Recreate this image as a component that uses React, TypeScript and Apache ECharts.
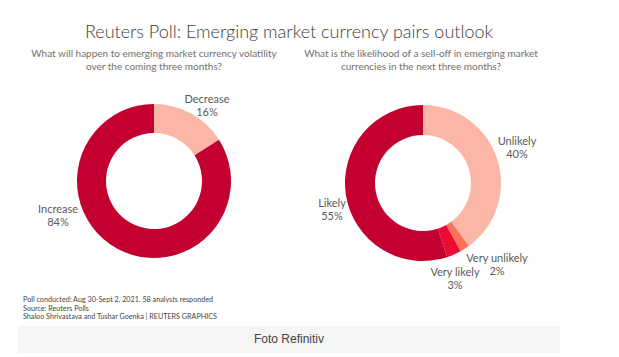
import React, { useEffect, useRef } from "react";
import * as echarts from "echarts";

const volatilityNames = ["Decrease", "Increase"];
const volatilityValues = [16, 84];
const selloffNames = ["Unlikely", "Very unlikely", "Very likely", "Likely"];
const selloffValues = [40, 2, 3, 55];

const titleText = "Reuters Poll: Emerging market currency pairs outlook";
const leftSubtitle = "What will happen to emerging market currency volatility\nover the coming three months?";
const rightSubtitle = "What is the likelihood of a sell-off in emerging market\ncurrencies in the next three months?";
const footerLines = [
  "Poll conducted: Aug 30-Sept 2, 2021. 58 analysts responded",
  "Source: Reuters Polls",
  "Shaloo Shrivastava and Tushar Goenka | REUTERS GRAPHICS",
];
const captionText = "Foto Refinitiv";

const DARK = "#c3002f";
const PINK = "#fbb6a8";
const CORAL = "#ff6f5c";
const BRIGHT = "#ec0a32";

const volatilityColors = [PINK, DARK];
const selloffColors = [PINK, CORAL, BRIGHT, DARK];

// label anchor positions (centre of text block)
const leftLabelPos: Record<string, [number, number]> = {
  Decrease: [207, 105],
  Increase: [58, 215],
};
const rightLabelPos: Record<string, [number, number]> = {
  Unlikely: [517, 147],
  "Very unlikely": [497, 264],
  "Very likely": [455, 278],
  Likely: [332, 209],
};

const FONT = "Lato";

export default function App() {
  const ref = useRef<HTMLDivElement>(null);
  useEffect(() => {
    if (!ref.current) return;
    const chart = echarts.init(ref.current, null, { renderer: "svg" });
    const labelStyle = {
      show: true,
      position: "outside" as const,
      formatter: "{b}\n{c}%",
      color: "#5a5a5a",
      fontSize: 11,
      lineHeight: 13,
      fontFamily: FONT,
      align: "center" as const,
    };
    chart.setOption({
      animation: false,
      backgroundColor: "#ffffff",
      textStyle: { fontFamily: FONT },
      series: [
        {
          type: "pie",
          center: [154, 181],
          radius: [48, 77],
          startAngle: 90,
          clockwise: true,
          silent: true,
          label: labelStyle,
          labelLine: { show: false },
          labelLayout: (p: any) => {
            const pos = leftLabelPos[volatilityNames[p.dataIndex]];
            return { x: pos[0], y: pos[1], align: "center", verticalAlign: "middle" };
          },
          data: volatilityNames.map((n, i) => ({
            name: n,
            value: volatilityValues[i],
            itemStyle: { color: volatilityColors[i] },
          })),
        },
        {
          type: "pie",
          center: [423, 183],
          radius: [48, 78],
          startAngle: 90,
          clockwise: true,
          silent: true,
          label: labelStyle,
          labelLine: { show: false },
          labelLayout: (p: any) => {
            const pos = rightLabelPos[selloffNames[p.dataIndex]];
            return { x: pos[0], y: pos[1], align: "center", verticalAlign: "middle" };
          },
          data: selloffNames.map((n, i) => ({
            name: n,
            value: selloffValues[i],
            itemStyle: { color: selloffColors[i] },
          })),
        },
      ],
      graphic: [
        {
          type: "text",
          x: 289,
          y: 31,
          style: {
            text: titleText,
            fontSize: 18,
            fontWeight: 300,
            fontFamily: FONT,
            fill: "#3c3c3c",
            align: "center",
            verticalAlign: "middle",
          },
        },
        {
          type: "text",
          x: 154,
          y: 59,
          style: {
            text: leftSubtitle,
            fontSize: 10,
            lineHeight: 13,
            fontFamily: FONT,
            fill: "#707070",
            align: "center",
            verticalAlign: "middle",
          },
        },
        {
          type: "text",
          x: 421,
          y: 59,
          style: {
            text: rightSubtitle,
            fontSize: 10,
            lineHeight: 13,
            fontFamily: FONT,
            fill: "#707070",
            align: "center",
            verticalAlign: "middle",
          },
        },
        {
          type: "text",
          x: 23,
          y: 308,
          style: {
            text: footerLines.join("\n"),
            fontSize: 7.2,
            lineHeight: 8.5,
            fontFamily: FONT,
            fill: "#444",
            align: "left",
            verticalAlign: "middle",
          },
        },
        {
          type: "rect",
          shape: { x: 18, y: 326, width: 542, height: 27 },
          style: { fill: "#f5f5f5" },
          silent: true,
        },
        {
          type: "text",
          x: 289,
          y: 339,
          style: {
            text: captionText,
            fontSize: 12,
            fontFamily: "Liberation Sans",
            fill: "#444",
            align: "center",
            verticalAlign: "middle",
          },
        },
      ],
    });
    return () => chart.dispose();
  }, []);
  return (
    <div
      ref={ref}
      style={{ position: "fixed", left: 0, top: 0, width: 619, height: 357 }}
    />
  );
}
